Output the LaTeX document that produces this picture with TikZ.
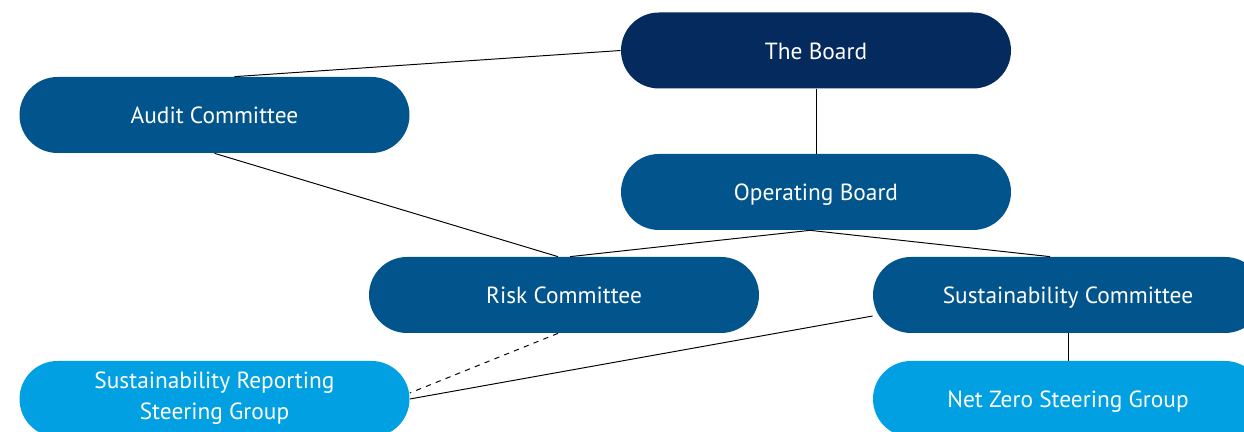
\documentclass[tikz,border=0pt]{standalone}
\usepackage{fontspec}
\setmainfont{PT Sans}
\definecolor{boardnavy}{HTML}{052A5E}
\definecolor{cmtblue}{HTML}{02548C}
\definecolor{grpblue}{HTML}{00A0E3}
\newcommand{\pillstrut}{\rule[-3.9pt]{0pt}{17.6pt}}

\tikzset{
    pill/.style={rectangle,rounded corners=0.76cm,minimum width=7.8cm,minimum height=1.52cm,
        text=white,font=\fontsize{13.3}{17.6}\selectfont,align=center,inner sep=0pt,
        execute at begin node=\pillstrut,execute at end node=\pillstrut},
    link/.style={black,line width=0.55pt}
}

\begin{document}
\begin{tikzpicture}
            \useasboundingbox (0,0) rectangle (24.88,8.64);
            \node[pill,fill=boardnavy] (board) at (16.32,7.63) {The Board};
            \node[pill,fill=cmtblue] (audit) at (4.29,6.34) {Audit Committee};
            \node[pill,fill=cmtblue] (opboard) at (16.32,4.8) {Operating Board};
            \node[pill,fill=cmtblue] (risk) at (11.28,2.74) {Risk Committee};
            \node[pill,fill=cmtblue] (sustcom) at (21.36,2.74) {Sustainability Committee};
            \node[pill,fill=grpblue] (reporting) at (4.29,0.66) {Sustainability Reporting\\Steering Group};
            \node[pill,fill=grpblue] (netzero) at (21.36,0.66) {Net Zero Steering Group};
            % lines between the boxes
            \draw[link] (board.west) -- ([xshift=4mm]audit.north);
            \draw[link] (board.south) -- (opboard.north);
            \draw[link] (audit.south) -- ([xshift=-1.2mm]risk.north);
            \draw[link] ([xshift=-1.2mm]opboard.south) -- ([xshift=1.2mm]risk.north);
            \draw[link] ([xshift=-1.2mm]opboard.south) -- ([xshift=-3.6mm]sustcom.north);
            \draw[link,dashed] ([xshift=-1.2mm]risk.south) -- ([yshift=1.2mm]reporting.east);
            \draw[link] ([yshift=-4.2mm]sustcom.west) -- (reporting.east);
            \draw[link] (sustcom.south) -- (netzero.north);
        \end{tikzpicture}
\end{document}
